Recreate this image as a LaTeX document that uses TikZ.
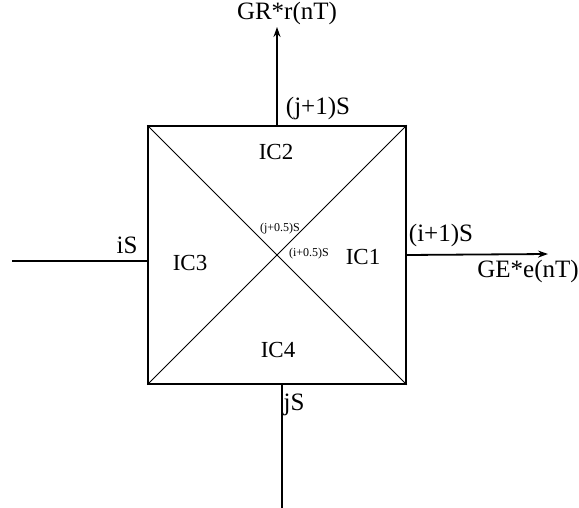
\documentclass[tikz,border=0pt]{standalone}
\usepackage{fontspec}
\setmainfont{Liberation Serif}
\usetikzlibrary{calc,positioning,arrows.meta}
\tikzset{
  blkline/.style={draw=black,line width=0.75pt},
  diagline/.style={draw=black,line width=0.45pt},
  sigline/.style={draw=black,line width=0.9pt},
  sigarrow/.style={sigline,-{Stealth[length=5pt,width=3.5pt]}},
  lblfont/.style={font=\fontsize{12.5}{14}\selectfont},
  icfont/.style={font=\fontsize{11.5}{13}\selectfont},
  tinyfont/.style={font=\fontsize{6}{7}\selectfont},
}
\begin{document}
\begin{tikzpicture}[x=0.5pt,y=-0.5pt]
  \useasboundingbox (0,0) rectangle (579,508);
  % the block
  \node[blkline,minimum size=129pt,inner sep=0pt] (blk) at (277,255) {};
  \draw[diagline] (blk.north west) -- (blk.south east);
  \draw[diagline] (blk.north east) -- (blk.south west);
  % ends of the signal lines
  \coordinate (topend) at (277,27);
  \coordinate (rightend) at (548,254);
  \coordinate (leftend) at (12,261);
  \coordinate (leftin) at ($(blk.west)+(0,6)$);
  \coordinate (botin) at ($(blk.south)+(5,0)$);
  \coordinate (botend) at (282,508);
  \draw[sigarrow] (blk.north) -- (topend);
  \draw[sigarrow] (blk.east) -- (rightend);
  \draw[sigline] (leftend) -- (leftin);
  \draw[sigline] (botin) -- (botend);
  % texts
  \node[lblfont] (gr) at (287,13) {GR*r(nT)};
  \node[lblfont] (jps) at (318,108) {(j+1)S};
  \node[lblfont] (is) at (127,245) {iS};
  \node[lblfont] (ips) at (441,235) {(i+1)S};
  \node[lblfont] (ge) at (528,271) {GE*e(nT)};
  \node[lblfont] (js) at (294,405) {jS};
  \node[icfont] (ic1) at (363,257) {IC1};
  \node[icfont] (ic2) at (276,152) {IC2};
  \node[icfont] (ic3) at (190,263) {IC3};
  \node[icfont] (ic4) at (278,350) {IC4};
  \node[tinyfont] (jh) at (280,229) {(j+0.5)S};
  \node[tinyfont] (ih) at (309,254) {(i+0.5)S};
\end{tikzpicture}
\end{document}
